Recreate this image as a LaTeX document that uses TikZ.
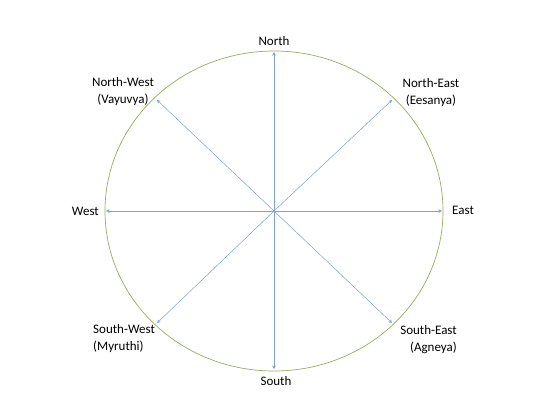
\documentclass[tikz,border=0pt]{standalone}
\usepackage{fontspec}
\setmainfont{Carlito}
\usetikzlibrary{arrows.meta}
\definecolor{ringgreen}{HTML}{94AD62}
\definecolor{arrowblue}{HTML}{7FA3CF}
\begin{document}
\begin{tikzpicture}[x=1pt,y=-1pt,
  ring/.style={draw=ringgreen,line width=0.7pt},
  ray/.style={draw=arrowblue,line width=0.5pt,-{Stealth[length=3.5pt,width=3.5pt]}},
  lbl/.style={inner sep=0pt,font=\fontsize{13}{17}\selectfont,text=black}]
\useasboundingbox (0,0) rectangle (544,400);
\fill[white] (0,0) rectangle (544,400);
\coordinate (c) at (274,211);
\draw[ring] (c) ellipse [x radius=169, y radius=160];
\coordinate (n) at (274,52);
\coordinate (s) at (274,369);
\coordinate (w) at (106,211);
\coordinate (e) at (442,211);
\coordinate (nw) at (157,100);
\coordinate (ne) at (392,100);
\coordinate (sw) at (157,323);
\coordinate (se) at (392,323);
\foreach \t in {n,s,w,e,nw,ne,sw,se} \draw[ray] (c) -- (\t);
\node[lbl] (ln) at (274,41) {North};
\node[lbl] (ls) at (276,381) {South};
\node[lbl,anchor=east] (lw) at (99,211) {West};
\node[lbl,anchor=west] (le) at (452,210) {East};
\node[lbl,align=center] (lnw) at (123,92) {North-West\\(Vayuvya)};
\node[lbl,align=center] (lne) at (431,93) {North-East\\(Eesanya)};
\node[lbl,align=left,anchor=west] (lsw) at (93,339) {South-West\\(Myruthi)};
\node[lbl,align=right,anchor=east] (lse) at (457,340) {South-East\\(Agneya)};
\end{tikzpicture}
\end{document}
